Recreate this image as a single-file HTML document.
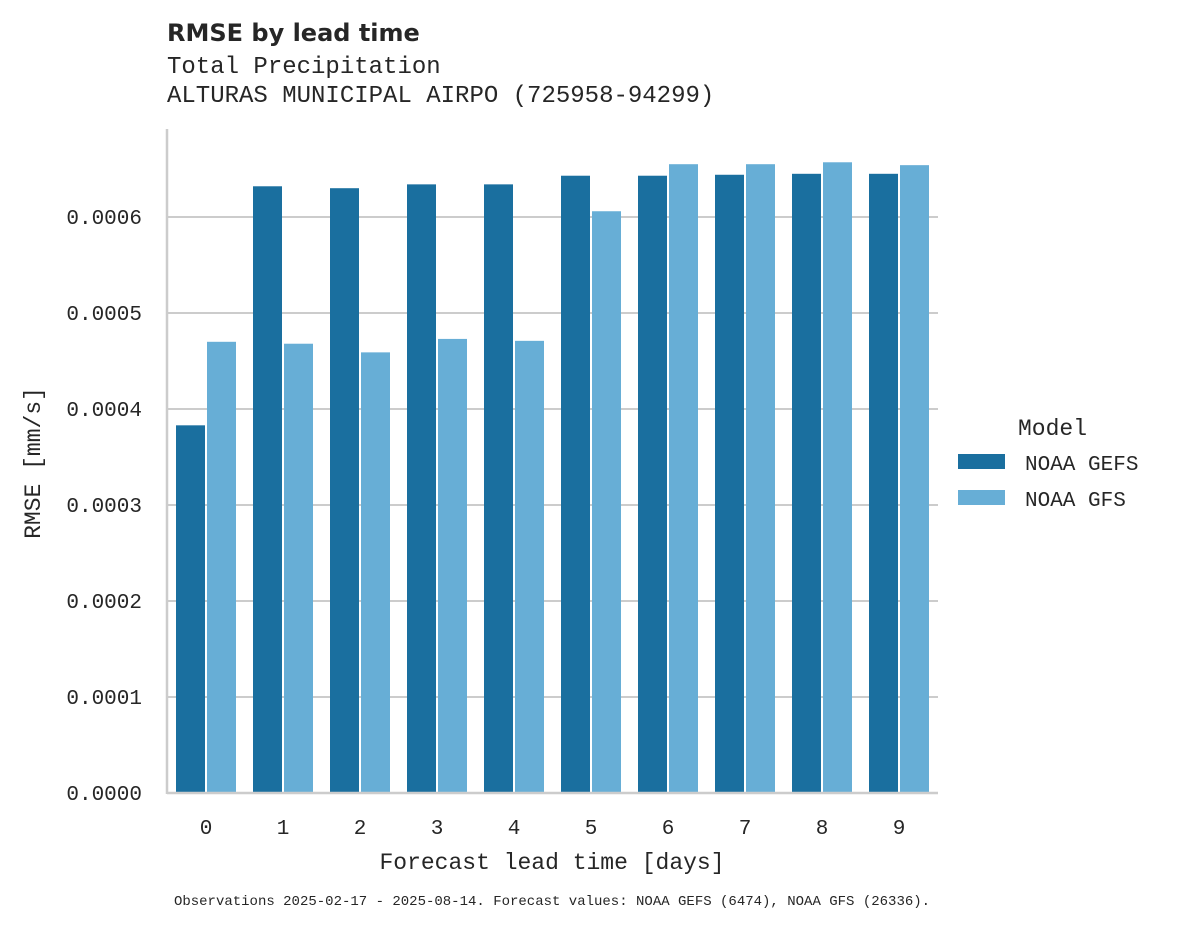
<!DOCTYPE html>
<html><head><meta charset="utf-8">
<style>
body{margin:0;background:#fff;}
svg text{font-family:"Liberation Mono","DejaVu Sans Mono",monospace;fill:#262626;}
</style></head>
<body>
<svg id="chart" width="1178" height="928" xmlns="http://www.w3.org/2000/svg">
<text x="167" y="41" style="font-family:'DejaVu Sans','Liberation Sans',sans-serif;font-weight:bold;font-size:24px">RMSE by lead time</text>
<text x="167" y="73" font-size="24">Total Precipitation</text>
<text x="167" y="102" font-size="24">ALTURAS MUNICIPAL AIRPO (725958-94299)</text>
<g id="grid"></g>
<g id="bars"></g>
<g id="axes"></g>
<text transform="translate(40,463) rotate(-90)" text-anchor="middle" font-size="23">RMSE [mm/s]</text>
<text x="552" y="869" text-anchor="middle" font-size="23">Forecast lead time [days]</text>
<g>
<text x="1018" y="435" font-size="23">Model</text>
<rect x="958" y="454" width="47" height="15" fill="#1a6f9f"/>
<text x="1025" y="470" font-size="21">NOAA GEFS</text>
<rect x="958" y="490" width="47" height="15" fill="#67aed6"/>
<text x="1025" y="506" font-size="21">NOAA GFS</text>
</g>
<text x="552" y="905" text-anchor="middle" font-size="14">Observations 2025-02-17 - 2025-08-14. Forecast values: NOAA GEFS (6474), NOAA GFS (26336).</text>
</svg>
<script>
const categories=["0","1","2","3","4","5","6","7","8","9"];
const gefsValues=[0.000383,0.000632,0.000630,0.000634,0.000634,0.000643,0.000643,0.000644,0.000645,0.000645];
const gfsValues=[0.000470,0.000468,0.000459,0.000473,0.000471,0.000606,0.000655,0.000655,0.000657,0.000654];
const yTicks=[0,0.0001,0.0002,0.0003,0.0004,0.0005,0.0006];
const yTickLabels=["0.0000","0.0001","0.0002","0.0003","0.0004","0.0005","0.0006"];
const NS="http://www.w3.org/2000/svg";
const x0=167,x1=938,y0=793,pxPer=960000;
const step=77,first=206;
function y(v){return y0-v*pxPer;}
function xc(i){return first+i*step;}
const grid=document.getElementById('grid'),bars=document.getElementById('bars'),axes=document.getElementById('axes');
yTicks.forEach((t,i)=>{
 if(t>0){const l=document.createElementNS(NS,'line');
 
 
 l.setAttribute('x1',x0);l.setAttribute('x2',x1);l.setAttribute('y1',y(t));l.setAttribute('y2',y(t));
 l.setAttribute('stroke','#cccccc');l.setAttribute('stroke-width','2');grid.appendChild(l);}
 const tx=document.createElementNS(NS,'text');
 
 
 tx.setAttribute('x',142);tx.setAttribute('y',y(t)+7);tx.setAttribute('text-anchor','end');tx.setAttribute('font-size','21');
 tx.textContent=yTickLabels[i];axes.appendChild(tx);
});
const bw=29;
categories.forEach((c,i)=>{
 [[gefsValues,'#1a6f9f',-bw-1,'bar-gefs'],[gfsValues,'#67aed6',1,'bar-gfs']].forEach(s=>{
  const r=document.createElementNS(NS,'rect');
  
  
  const v=s[0][i];
  r.setAttribute('x',xc(i)+s[2]);r.setAttribute('width',bw);
  r.setAttribute('y',y(v));r.setAttribute('height',y0-y(v));r.setAttribute('fill',s[1]);
  bars.appendChild(r);
 });
 const tx=document.createElementNS(NS,'text');
 
 
 tx.setAttribute('x',xc(i));tx.setAttribute('y',834);tx.setAttribute('text-anchor','middle');tx.setAttribute('font-size','21');
 tx.textContent=c;axes.appendChild(tx);
});
const la=document.createElementNS(NS,'line');


la.setAttribute('x1',x0);la.setAttribute('x2',x0);la.setAttribute('y1',129);la.setAttribute('y2',y0+1);
la.setAttribute('stroke','#cccccc');la.setAttribute('stroke-width','2.5');axes.appendChild(la);
const lb=document.createElementNS(NS,'line');


lb.setAttribute('x1',x0);lb.setAttribute('x2',x1);lb.setAttribute('y1',y0);lb.setAttribute('y2',y0);
lb.setAttribute('stroke','#cccccc');lb.setAttribute('stroke-width','2.5');axes.appendChild(lb);
</script>
</body></html>
